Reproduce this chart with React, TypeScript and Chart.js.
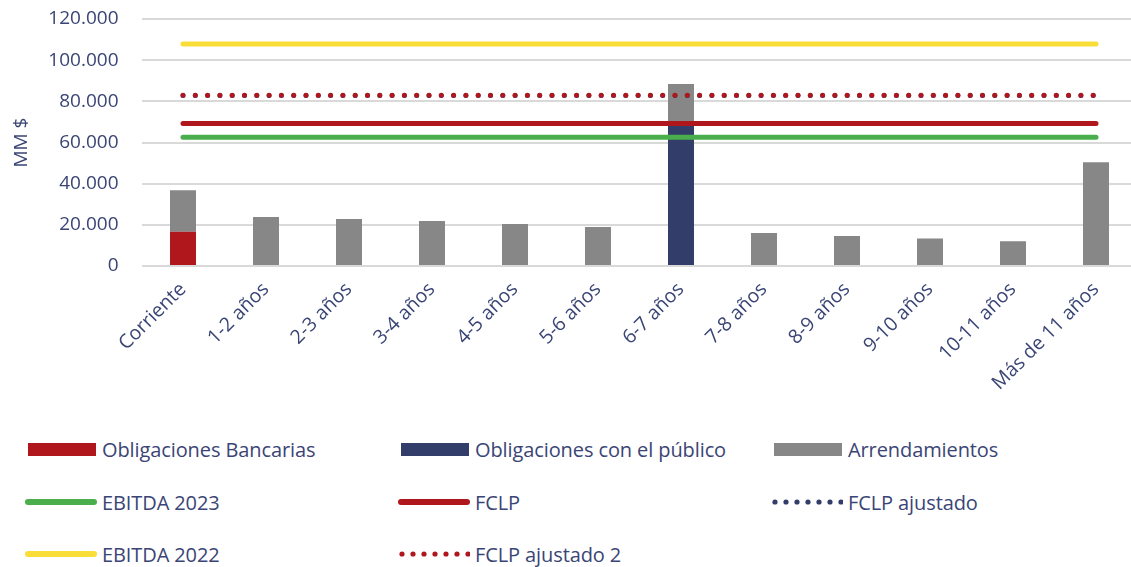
import React, { useEffect, useRef } from "react";
import { Chart, registerables } from "chart.js";

Chart.register(...registerables);

const categories = [
  "Corriente", "1-2 años", "2-3 años", "3-4 años", "4-5 años", "5-6 años",
  "6-7 años", "7-8 años", "8-9 años", "9-10 años", "10-11 años", "Más de 11 años",
];
const obligacionesBancarias = [16700, 0, 0, 0, 0, 0, 0, 0, 0, 0, 0, 0];
const obligacionesPublico = [0, 0, 0, 0, 0, 0, 69300, 0, 0, 0, 0, 0];
const arrendamientos = [20100, 23800, 22800, 21900, 20400, 18950, 19100, 16000, 14600, 13400, 12000, 50400];
const ebitda2023 = 62500;
const ebitda2022 = 107900;
const fclp = 69200;
const fclpAjustado = 82800;
const fclpAjustado2 = 83000;
const yTicks = [0, 20000, 40000, 60000, 80000, 100000, 120000];

const RED = "#AF171D";
const NAVY = "#323D6A";
const GRAY = "#878787";
const GREEN = "#4AAE4C";
const YELLOW = "#F9DE38";
const TEXT = "#3A4575";
const FONT = "'Open Sans', 'Noto Sans', sans-serif";

const fmt = (v: number) => v.toLocaleString("de-DE");
const flat = (v: number) => categories.map(() => v);

type LegendItem = { label: string; kind: "bar" | "line" | "dots"; color: string };
const legendRows: LegendItem[][] = [
  [
    { label: "Obligaciones Bancarias", kind: "bar", color: RED },
    { label: "Obligaciones con el público", kind: "bar", color: NAVY },
    { label: "Arrendamientos", kind: "bar", color: GRAY },
  ],
  [
    { label: "EBITDA 2023", kind: "line", color: GREEN },
    { label: "FCLP", kind: "line", color: RED },
    { label: "FCLP ajustado", kind: "dots", color: NAVY },
  ],
  [
    { label: "EBITDA 2022", kind: "line", color: YELLOW },
    { label: "FCLP ajustado 2", kind: "dots", color: RED },
  ],
];

function Marker({ item }: { item: LegendItem }) {
  if (item.kind === "bar") {
    return (
      <div style={{ width: 72, height: 13, display: "flex" }}>
        <div style={{ marginLeft: 3, width: 68, height: 13, background: item.color }} />
      </div>
    );
  }
  if (item.kind === "line") {
    return (
      <svg width={72} height={8} style={{ display: "block" }}>
        <line x1={3} y1={4} x2={69} y2={4} stroke={item.color} strokeWidth={6} strokeLinecap="round" />
      </svg>
    );
  }
  const dots = [0, 1, 2, 3, 4, 5, 6];
  return (
    <svg width={72} height={8} style={{ display: "block" }}>
      {dots.map((i) => (
        <circle key={i} cx={4 + i * 11} cy={4} r={2.6} fill={item.color} />
      ))}
    </svg>
  );
}

export default function App() {
  const ref = useRef<HTMLCanvasElement | null>(null);

  useEffect(() => {
    if (!ref.current) return;
    const lineBase = {
      type: "line" as const,
      pointRadius: 0,
      borderWidth: 5,
      borderCapStyle: "round" as const,
      fill: false,
      tension: 0,
    };
    const chart = new Chart(ref.current, {
      type: "bar",
      data: {
        labels: categories,
        datasets: [
          { ...lineBase, label: "FCLP ajustado 2", data: flat(fclpAjustado2), borderColor: RED, borderDash: [0, 12.3], stack: "l5", order: 1 },
          { ...lineBase, label: "FCLP ajustado", data: flat(fclpAjustado), borderColor: NAVY, borderDash: [0, 12.3], stack: "l4", order: 2 },
          { ...lineBase, label: "EBITDA 2022", data: flat(ebitda2022), borderColor: YELLOW, stack: "l1", order: 3 },
          { ...lineBase, label: "FCLP", data: flat(fclp), borderColor: RED, stack: "l3", order: 3 },
          { ...lineBase, label: "EBITDA 2023", data: flat(ebitda2023), borderColor: GREEN, stack: "l2", order: 3 },
          { type: "bar", label: "Obligaciones Bancarias", data: obligacionesBancarias, backgroundColor: RED, stack: "b", order: 10 },
          { type: "bar", label: "Obligaciones con el público", data: obligacionesPublico, backgroundColor: NAVY, stack: "b", order: 10 },
          { type: "bar", label: "Arrendamientos", data: arrendamientos, backgroundColor: GRAY, stack: "b", order: 10 },
        ] as any,
      },
      options: {
        animation: false,
        responsive: false,
        maintainAspectRatio: false,
        datasets: { bar: { categoryPercentage: 1, barPercentage: 0.313 } },
        layout: { padding: { top: 19, right: 2.5, left: 0, bottom: 0 } },
        plugins: { legend: { display: false }, tooltip: { enabled: false } },
        scales: {
          x: {
            stacked: true,
            offset: true,
            grid: { display: false },
            border: { display: false },
            ticks: {
              minRotation: 45,
              maxRotation: 45,
              autoSkip: false,
              color: TEXT,
              padding: 4,
              font: { family: FONT, size: 19.5 },
            },
            afterFit: (s: any) => { s.height = 154; },
          },
          y: {
            stacked: true,
            min: 0,
            max: 120000,
            afterBuildTicks: (s: any) => { s.ticks = yTicks.map((v) => ({ value: v })); },
            afterFit: (s: any) => {
              s.width = 141.5;
              s.paddingTop = 0;
              s.paddingBottom = 0;
            },
            grid: { color: "#D9D9D9", lineWidth: 2, drawTicks: false },
            border: { display: false },
            ticks: {
              color: TEXT,
              padding: 23,
              font: { family: FONT, size: 19 },
              callback: (v: any) => fmt(Number(v)),
            },
            title: {
              display: true,
              text: "MM $",
              color: TEXT,
              padding: { top: 10, bottom: 0 },
              font: { family: FONT, size: 19 },
            },
          },
        },
      },
    });
    return () => chart.destroy();
  }, []);

  const colX = [27, 400, 773];
  const rowY = [449, 502, 554];

  return (
    <div style={{ position: "absolute", left: 0, top: 0, width: 1131, height: 567, overflow: "hidden", background: "#fff", fontFamily: FONT }}>
      <canvas ref={ref} width={1140} height={420} style={{ position: "absolute", left: 0, top: 0, width: 1140, height: 420 }} />
      {legendRows.map((row, ri) =>
        row.map((item, ci) => (
          <div
            key={ri + "-" + ci}
            style={{
              position: "absolute",
              left: colX[ci] - 2,
              top: rowY[ri] - 14,
              height: 28,
              display: "flex",
              alignItems: "center",
              gap: 5,
              color: TEXT,
              fontSize: 20,
              letterSpacing: -0.1,
              whiteSpace: "nowrap",
            }}
          >
            <Marker item={item} />
            <span>{item.label}</span>
          </div>
        ))
      )}
    </div>
  );
}
